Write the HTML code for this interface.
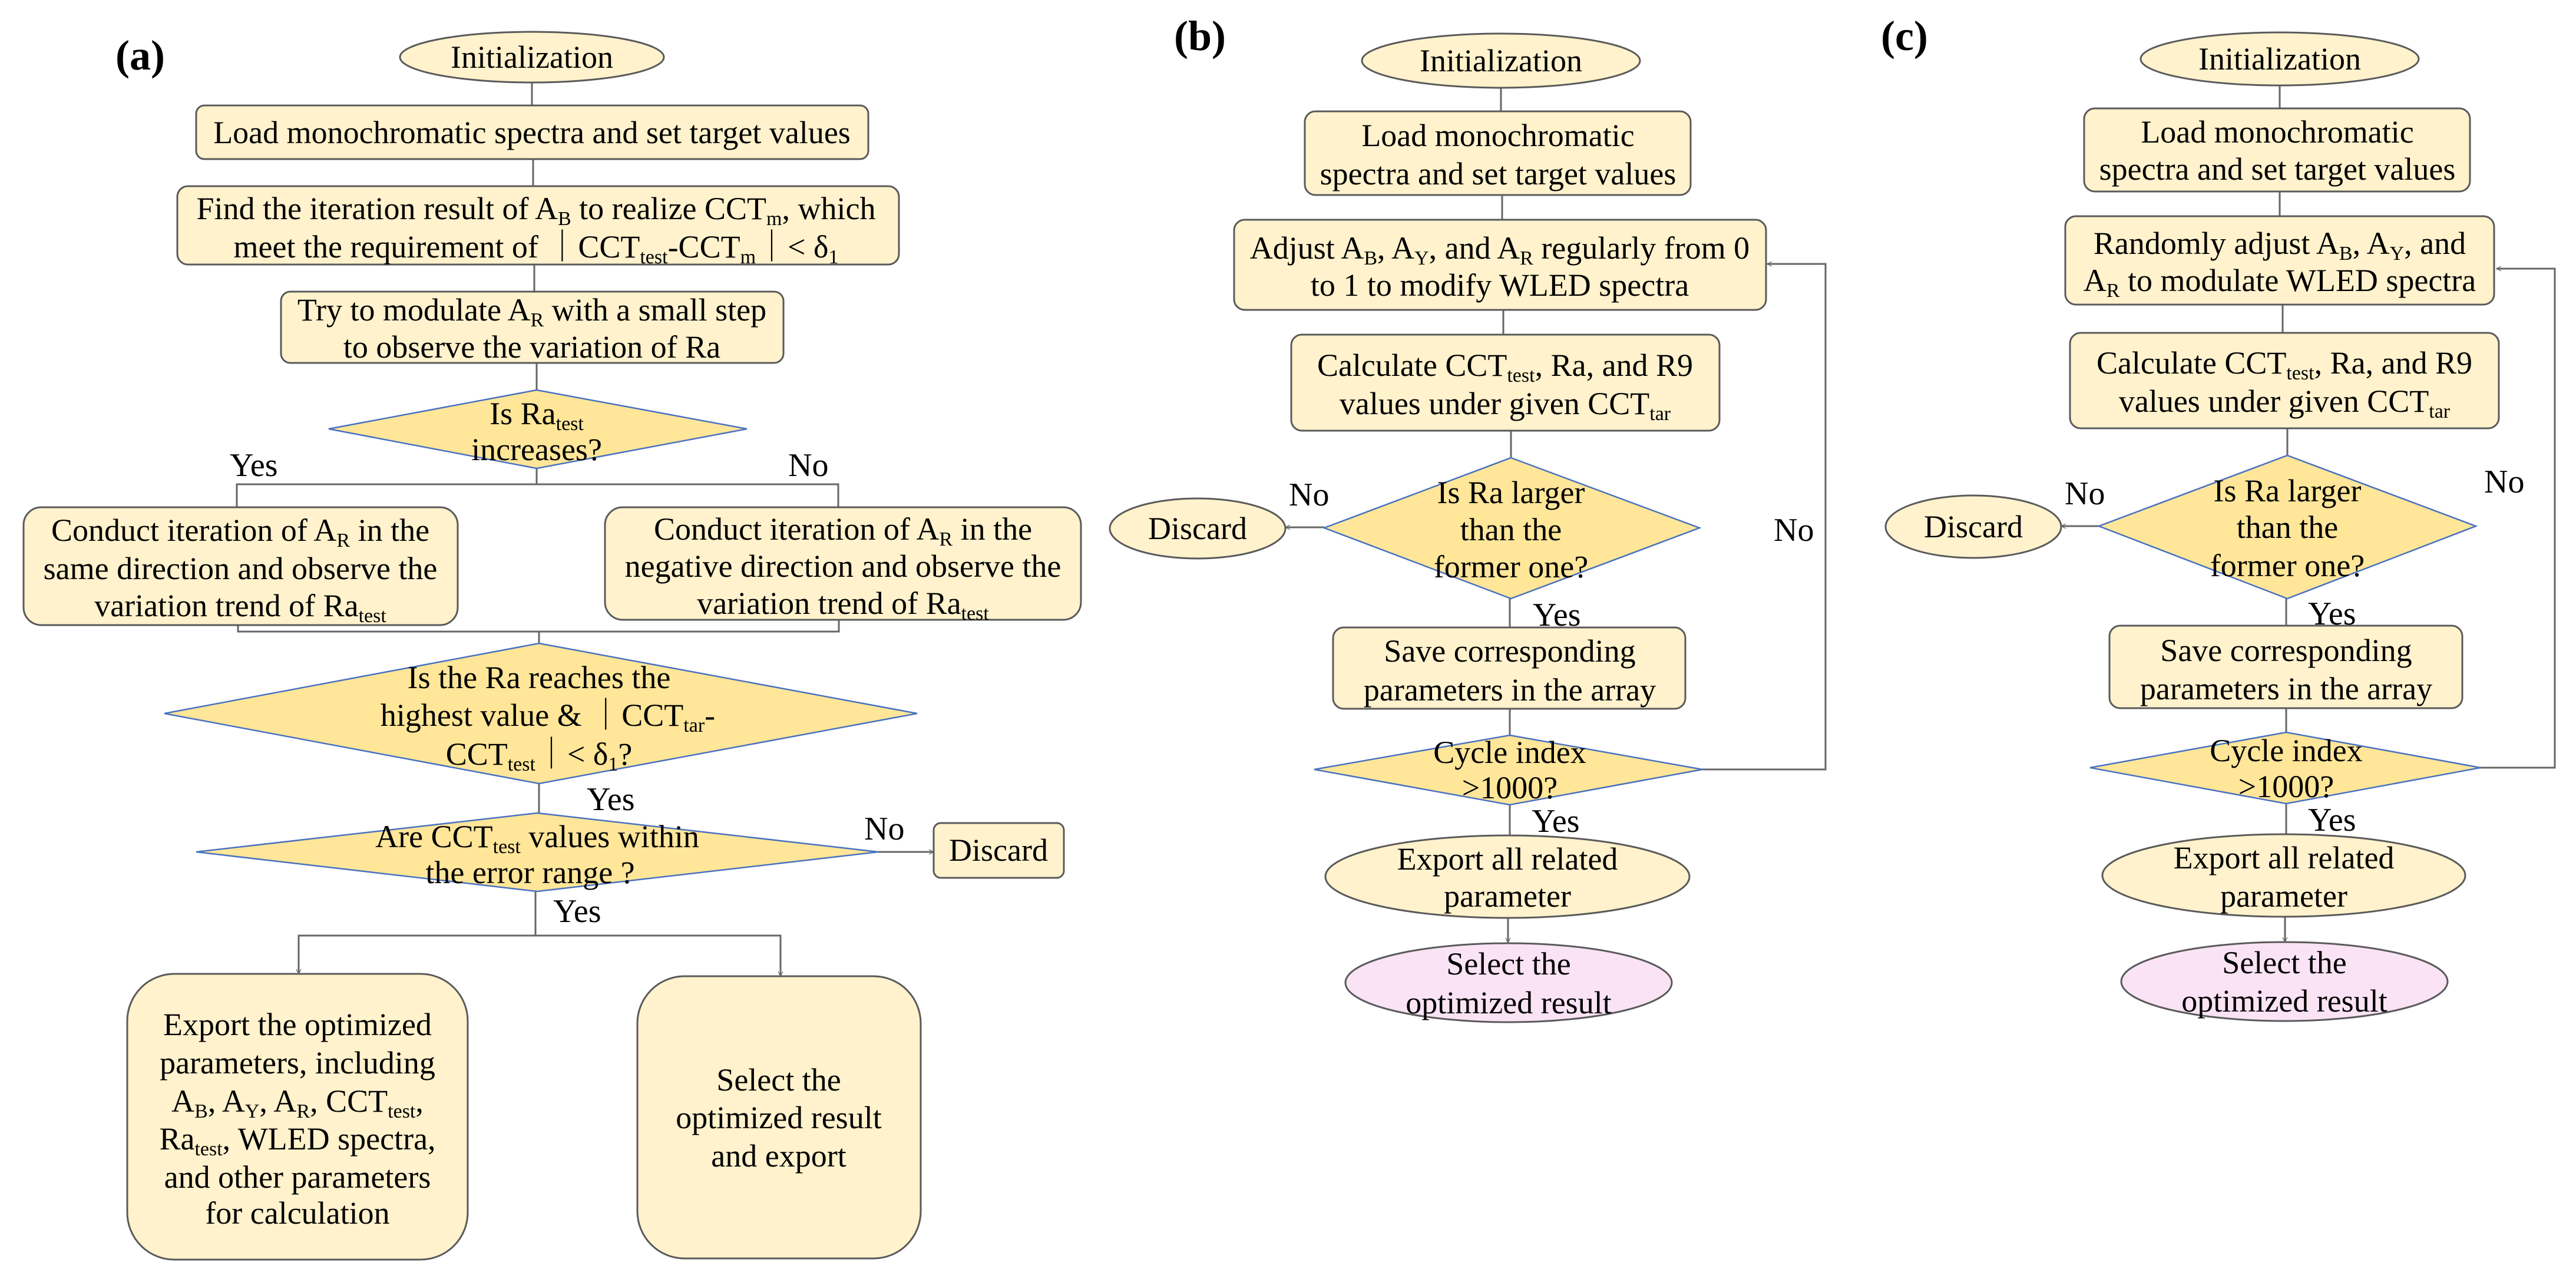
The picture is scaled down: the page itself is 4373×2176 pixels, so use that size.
<!DOCTYPE html>
<html><head><meta charset="utf-8"><style>
html,body{margin:0;padding:0;background:#fff;}
svg{display:block;font-family:"Liberation Serif","Times New Roman",serif;}
text,tspan{font-family:"Liberation Serif","Times New Roman",serif;fill:#000;}
.b{fill:#fff2cc;stroke:#5a5a5a;stroke-width:3;}
.d{fill:#ffe699;stroke:#4a72c0;stroke-width:2.5;}
.p{fill:#fae3f5;stroke:#5a5a5a;stroke-width:3;}
.l{stroke:#666;stroke-width:3;fill:none;}
.t{font-size:54px;text-anchor:middle;font-family:"Liberation Serif",serif;}
.lab{font-size:56px;font-family:"Liberation Serif",serif;}
.h{font-size:72px;font-weight:bold;font-family:"Liberation Serif",serif;}
.s{font-size:34px;}
</style></head><body>
<svg width="4373" height="2176" viewBox="0 0 4373 2176" xmlns="http://www.w3.org/2000/svg" font-family="Liberation Serif, serif">
<defs>
<marker id="ar" viewBox="0 0 20 20" refX="18" refY="10" markerWidth="10" markerHeight="10" markerUnits="userSpaceOnUse" orient="auto"><path d="M2,2 L18,10 L2,18" fill="none" stroke="#666" stroke-width="2.5"/></marker>
</defs>

<!-- ================= (a) ================= -->
<text class="h" x="196" y="118">(a)</text>
<line class="l" x1="903" y1="140" x2="903" y2="179"/>
<line class="l" x1="905" y1="270" x2="905" y2="316"/>
<line class="l" x1="907" y1="449" x2="907" y2="495"/>
<line class="l" x1="911" y1="616" x2="911" y2="662"/>
<line class="l" x1="911" y1="795" x2="911" y2="822"/>
<polyline class="l" points="402,861 402,822 1423,822 1423,861"/>
<polyline class="l" points="404,1061 404,1072 1424,1072 1424,1052"/>
<line class="l" x1="915" y1="1072" x2="915" y2="1092"/>
<line class="l" x1="915" y1="1330" x2="915" y2="1380"/>
<line class="l" x1="1491" y1="1446" x2="1585" y2="1446" marker-end="url(#ar)"/>
<line class="l" x1="909" y1="1513" x2="909" y2="1588"/>
<polyline class="l" points="507,1653 507,1588 1325,1588 1325,1657"/>
<line class="l" x1="507" y1="1600" x2="507" y2="1653" marker-end="url(#ar)"/>
<line class="l" x1="1325" y1="1600" x2="1325" y2="1657" marker-end="url(#ar)"/>

<ellipse class="b" cx="903" cy="97" rx="224" ry="43"/>
<text class="t" x="903" y="115">Initialization</text>

<rect class="b" x="333" y="179" width="1141" height="91" rx="14"/>
<text class="t" x="903" y="243">Load monochromatic spectra and set target values</text>

<rect class="b" x="301" y="316" width="1225" height="133" rx="18"/>
<text class="t" x="910" y="372">Find the iteration result of A<tspan class="s" dy="10">B</tspan><tspan dy="-10"> to realize CCT</tspan><tspan class="s" dy="10">m</tspan><tspan dy="-10">, which</tspan></text>
<text class="t" x="910" y="437">meet the requirement of ｜CCT<tspan class="s" dy="10">test</tspan><tspan dy="-10">-CCT</tspan><tspan class="s" dy="10">m</tspan><tspan dy="-10">｜&lt; δ</tspan><tspan class="s" dy="10">1</tspan></text>

<rect class="b" x="477" y="495" width="853" height="121" rx="16"/>
<text class="t" x="903" y="544">Try to modulate A<tspan class="s" dy="10">R</tspan><tspan dy="-10"> with a small step</tspan></text>
<text class="t" x="903" y="607">to observe the variation of Ra</text>

<polygon class="d" points="911,662 1268,728 911,795 558,728"/>
<text class="t" x="911" y="720">Is Ra<tspan class="s" dy="10">test</tspan></text>
<text class="t" x="911" y="781">increases?</text>
<text class="lab" x="390" y="808">Yes</text>
<text class="lab" x="1338" y="808">No</text>

<rect class="b" x="40" y="861" width="737" height="200" rx="30"/>
<text class="t" x="408" y="918">Conduct iteration of A<tspan class="s" dy="10">R</tspan><tspan dy="-10"> in the</tspan></text>
<text class="t" x="408" y="983">same direction and observe the</text>
<text class="t" x="408" y="1046">variation trend of Ra<tspan class="s" dy="10">test</tspan></text>

<rect class="b" x="1027" y="861" width="808" height="191" rx="30"/>
<text class="t" x="1431" y="916">Conduct iteration of A<tspan class="s" dy="10">R</tspan><tspan dy="-10"> in the</tspan></text>
<text class="t" x="1431" y="979">negative direction and observe the</text>
<text class="t" x="1431" y="1042">variation trend of Ra<tspan class="s" dy="10">test</tspan></text>

<polygon class="d" points="915,1092 1557,1211 915,1330 279,1211"/>
<text class="t" x="915" y="1168">Is the Ra reaches the</text>
<text class="t" x="930" y="1232">highest value &amp; ｜CCT<tspan class="s" dy="10">tar</tspan><tspan dy="-10">-</tspan></text>
<text class="t" x="915" y="1298">CCT<tspan class="s" dy="10">test</tspan><tspan dy="-10">｜&lt; δ</tspan><tspan class="s" dy="10">1</tspan><tspan dy="-10">?</tspan></text>
<text class="lab" x="996" y="1375">Yes</text>

<polygon class="d" points="912,1380 1491,1446 912,1513 333,1446"/>
<text class="t" x="912" y="1438">Are CCT<tspan class="s" dy="10">test</tspan><tspan dy="-10"> values within</tspan></text>
<text class="t" x="900" y="1499">the error range ?</text>
<text class="lab" x="1467" y="1425">No</text>
<rect class="b" x="1585" y="1397" width="221" height="93" rx="12"/>
<text class="t" x="1695" y="1461">Discard</text>
<text class="lab" x="939" y="1565">Yes</text>

<rect class="b" x="216" y="1653" width="578" height="485" rx="80"/>
<text class="t" x="505" y="1757">Export the optimized</text>
<text class="t" x="505" y="1822">parameters, including</text>
<text class="t" x="505" y="1887">A<tspan class="s" dy="10">B</tspan><tspan dy="-10">, A</tspan><tspan class="s" dy="10">Y</tspan><tspan dy="-10">, A</tspan><tspan class="s" dy="10">R</tspan><tspan dy="-10">, CCT</tspan><tspan class="s" dy="10">test</tspan><tspan dy="-10">,</tspan></text>
<text class="t" x="505" y="1951">Ra<tspan class="s" dy="10">test</tspan><tspan dy="-10">, WLED spectra,</tspan></text>
<text class="t" x="505" y="2016">and other parameters</text>
<text class="t" x="505" y="2077">for calculation</text>

<rect class="b" x="1082" y="1657" width="481" height="479" rx="80"/>
<text class="t" x="1322" y="1851">Select the</text>
<text class="t" x="1322" y="1915">optimized result</text>
<text class="t" x="1322" y="1980">and export</text>

<!-- ================= (b) ================= -->
<text class="h" x="1993" y="85">(b)</text>
<line class="l" x1="2548" y1="149" x2="2548" y2="189"/>
<line class="l" x1="2550" y1="331" x2="2550" y2="373"/>
<line class="l" x1="2552" y1="526" x2="2552" y2="568"/>
<line class="l" x1="2565" y1="731" x2="2565" y2="777"/>
<line class="l" x1="2248" y1="895" x2="2182" y2="895" marker-end="url(#ar)"/>
<line class="l" x1="2563" y1="1016" x2="2563" y2="1065"/>
<line class="l" x1="2563" y1="1203" x2="2563" y2="1248"/>
<polyline class="l" points="2890,1306 3099,1306 3099,448 3000,448" marker-end="url(#ar)"/>
<line class="l" x1="2563" y1="1366" x2="2563" y2="1418"/>
<line class="l" x1="2560" y1="1558" x2="2560" y2="1600" marker-end="url(#ar)"/>

<ellipse class="b" cx="2548" cy="103" rx="236" ry="46"/>
<text class="t" x="2548" y="121">Initialization</text>
<rect class="b" x="2215" y="189" width="655" height="142" rx="18"/>
<text class="t" x="2543" y="248">Load monochromatic</text>
<text class="t" x="2543" y="313">spectra and set target values</text>
<rect class="b" x="2095" y="373" width="903" height="153" rx="18"/>
<text class="t" x="2546" y="439">Adjust A<tspan class="s" dy="10">B</tspan><tspan dy="-10">, A</tspan><tspan class="s" dy="10">Y</tspan><tspan dy="-10">, and A</tspan><tspan class="s" dy="10">R</tspan><tspan dy="-10">  regularly from 0</tspan></text>
<text class="t" x="2546" y="502">to 1 to modify WLED spectra</text>
<rect class="b" x="2192" y="568" width="727" height="163" rx="18"/>
<text class="t" x="2555" y="638">Calculate CCT<tspan class="s" dy="10">test</tspan><tspan dy="-10">, Ra, and R9</tspan></text>
<text class="t" x="2555" y="703">values under given CCT<tspan class="s" dy="10">tar</tspan></text>

<polygon class="d" points="2565,777 2885,896 2565,1016 2248,896"/>
<text class="t" x="2565" y="854">Is Ra larger</text>
<text class="t" x="2565" y="917">than the</text>
<text class="t" x="2565" y="980">former one?</text>
<ellipse class="b" cx="2033" cy="897" rx="149" ry="51"/>
<text class="t" x="2033" y="915">Discard</text>
<text class="lab" x="2188" y="858">No</text>
<text class="lab" x="3011" y="918">No</text>
<text class="lab" x="2602" y="1062">Yes</text>

<rect class="b" x="2263" y="1065" width="598" height="138" rx="18"/>
<text class="t" x="2563" y="1123">Save corresponding</text>
<text class="t" x="2563" y="1189">parameters in the array</text>

<polygon class="d" points="2563,1248 2890,1306 2563,1366 2231,1306"/>
<text class="t" x="2563" y="1295">Cycle index</text>
<text class="t" x="2563" y="1355">&gt;1000?</text>
<text class="lab" x="2600" y="1412">Yes</text>

<ellipse class="b" cx="2559" cy="1488" rx="309" ry="70"/>
<text class="t" x="2559" y="1476">Export all related</text>
<text class="t" x="2559" y="1539">parameter</text>
<ellipse class="p" cx="2561" cy="1668" rx="277" ry="67"/>
<text class="t" x="2561" y="1654">Select the</text>
<text class="t" x="2561" y="1720">optimized result</text>

<!-- ================= (c) ================= -->
<text class="h" x="3193" y="85">(c)</text>
<line class="l" x1="3870" y1="144" x2="3870" y2="184"/>
<line class="l" x1="3870" y1="325" x2="3870" y2="367"/>
<line class="l" x1="3875" y1="517" x2="3875" y2="565"/>
<line class="l" x1="3883" y1="727" x2="3883" y2="773"/>
<line class="l" x1="3563" y1="893" x2="3499" y2="893" marker-end="url(#ar)"/>
<line class="l" x1="3881" y1="1016" x2="3881" y2="1062"/>
<line class="l" x1="3881" y1="1202" x2="3881" y2="1243"/>
<polyline class="l" points="4211,1303 4337,1303 4337,456 4238,456" marker-end="url(#ar)"/>
<line class="l" x1="3881" y1="1364" x2="3881" y2="1415"/>
<line class="l" x1="3879" y1="1556" x2="3879" y2="1599" marker-end="url(#ar)"/>

<ellipse class="b" cx="3870" cy="100" rx="236" ry="45"/>
<text class="t" x="3870" y="118">Initialization</text>
<rect class="b" x="3538" y="184" width="655" height="141" rx="18"/>
<text class="t" x="3866" y="242">Load monochromatic</text>
<text class="t" x="3866" y="305">spectra and set target values</text>
<rect class="b" x="3506" y="367" width="728" height="150" rx="18"/>
<text class="t" x="3870" y="431">Randomly adjust A<tspan class="s" dy="10">B</tspan><tspan dy="-10">, A</tspan><tspan class="s" dy="10">Y</tspan><tspan dy="-10">, and</tspan></text>
<text class="t" x="3870" y="494">A<tspan class="s" dy="10">R</tspan><tspan dy="-10">  to modulate WLED spectra</tspan></text>
<rect class="b" x="3514" y="565" width="728" height="162" rx="18"/>
<text class="t" x="3878" y="634">Calculate CCT<tspan class="s" dy="10">test</tspan><tspan dy="-10">, Ra, and R9</tspan></text>
<text class="t" x="3878" y="699">values under given CCT<tspan class="s" dy="10">tar</tspan></text>

<polygon class="d" points="3883,773 4203,893 3883,1016 3563,893"/>
<text class="t" x="3883" y="851">Is Ra larger</text>
<text class="t" x="3883" y="913">than the</text>
<text class="t" x="3883" y="978">former one?</text>
<ellipse class="b" cx="3350" cy="894" rx="149" ry="53"/>
<text class="t" x="3350" y="912">Discard</text>
<text class="lab" x="3505" y="856">No</text>
<text class="lab" x="4217" y="836">No</text>
<text class="lab" x="3918" y="1060">Yes</text>

<rect class="b" x="3581" y="1062" width="599" height="140" rx="18"/>
<text class="t" x="3881" y="1122">Save corresponding</text>
<text class="t" x="3881" y="1187">parameters in the array</text>

<polygon class="d" points="3881,1243 4211,1303 3881,1364 3548,1303"/>
<text class="t" x="3881" y="1292">Cycle index</text>
<text class="t" x="3881" y="1353">&gt;1000?</text>
<text class="lab" x="3918" y="1410">Yes</text>

<ellipse class="b" cx="3877" cy="1486" rx="308" ry="70"/>
<text class="t" x="3877" y="1474">Export all related</text>
<text class="t" x="3877" y="1539">parameter</text>
<ellipse class="p" cx="3878" cy="1666" rx="277" ry="67"/>
<text class="t" x="3878" y="1652">Select the</text>
<text class="t" x="3878" y="1717">optimized result</text>
</svg>
</body></html>
